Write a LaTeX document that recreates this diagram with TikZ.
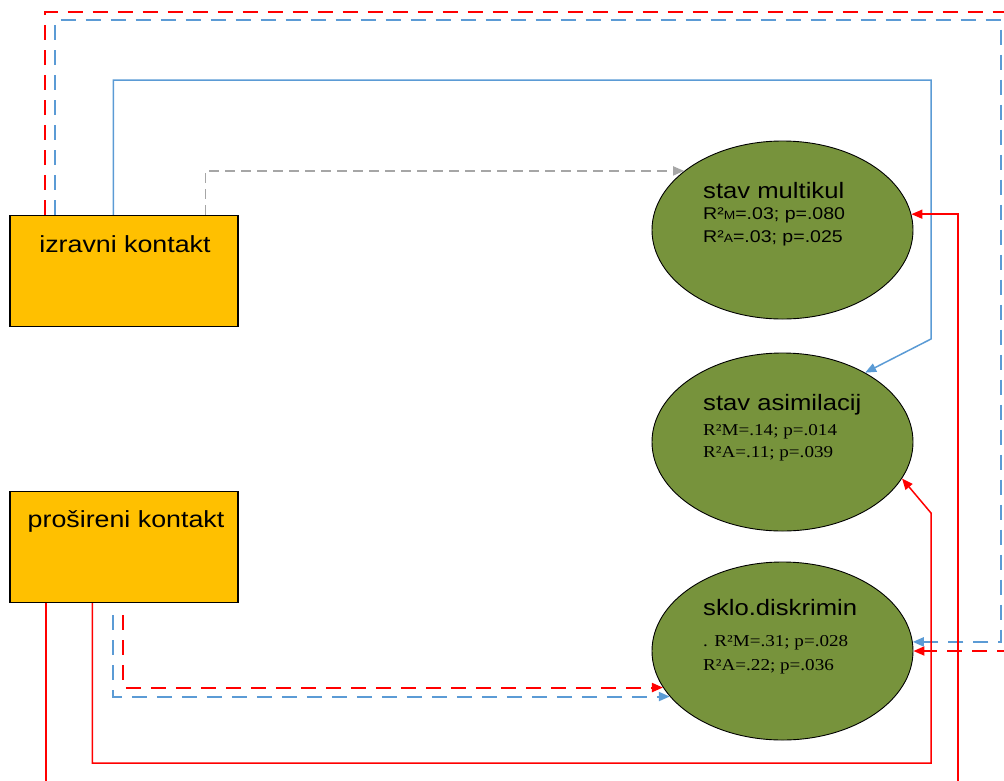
\documentclass[tikz,border=0pt]{standalone}
\usepackage{fontspec}
\setmainfont{Liberation Sans}
\newfontfamily\sansw[FakeStretch=1.15]{Liberation Sans}
\newfontfamily\serifw[FakeStretch=1.15]{Liberation Serif}
\usetikzlibrary{arrows.meta,shapes.geometric}
\definecolor{boxfill}{HTML}{FFC000}
\definecolor{ellfill}{HTML}{77933C}
\definecolor{lblue}{HTML}{5B9BD5}
\definecolor{lred}{HTML}{FF0000}
\definecolor{lgray}{HTML}{A6A6A6}
\begin{document}
\begin{tikzpicture}[x=1pt,y=-1pt,
  kbox/.style={draw=black,line width=1.3pt,fill=boxfill,minimum width=228pt,minimum height=111pt,inner sep=0pt},
  ell/.style={ellipse,draw=black,line width=0.9pt,fill=ellfill,minimum width=261pt,minimum height=178pt,inner sep=0pt},
  boxtxt/.style={anchor=base,inner sep=0pt,font=\sansw\fontsize{23.3}{27}\selectfont},
  titletxt/.style={anchor=base west,inner sep=0pt,font=\sansw\fontsize{22.3}{26}\selectfont},
  stsans/.style={anchor=base west,inner sep=0pt,font=\sansw\fontsize{17}{20}\selectfont},
  stserif/.style={anchor=base west,inner sep=0pt,font=\serifw\fontsize{16.6}{20}\selectfont},
  tip/.style={-{Triangle[length=11pt,width=9pt]}},
  bluesolid/.style={draw=lblue,line width=1.5pt,tip},
  redsolid/.style={draw=lred,line width=1.5pt,tip},
  bluedash/.style={draw=lblue,line width=2pt,dash pattern=on 15pt off 10pt,tip},
  reddash/.style={draw=lred,line width=2pt,dash pattern=on 15pt off 10pt,tip},
  graydash/.style={draw=lgray,line width=1.5pt,dash pattern=on 10pt off 6pt,tip}
]
\useasboundingbox (0,0) rectangle (1004,780);
\clip (0,0) rectangle (1004,780);

% boxes
\node[kbox] (iz) at (124,271) {};
\node[kbox] (pro) at (124,547) {};
\node[boxtxt] (izt) at (125,252) {izravni kontakt};
\node[boxtxt] (prot) at (126,527) {prošireni kontakt};

% ellipses
\node[ell] (mul) at (782.5,230) {};
\node[ell] (asi) at (782.5,442) {};
\node[ell] (skl) at (782.5,651) {};

\node[titletxt] (mult) at (703,198) {stav multikul};
\node[stsans] (mul2) at (703,219) {R²{\fontsize{12}{13}\selectfont M}=.03; p=.080};
\node[stsans] (mul3) at (703,242) {R²{\fontsize{12}{13}\selectfont A}=.03; p=.025};

\node[titletxt] (asit) at (703,410) {stav asimilacij};
\node[stserif] (asi2) at (703,435) {R²M=.14; p=.014};
\node[stserif] (asi3) at (703,457) {R²A=.11; p=.039};

\node[titletxt] (sklt) at (703,615) {sklo.diskrimin};
\node[stserif] (skl2) at (703,646) {. R²M=.31; p=.028};
\node[stserif] (skl3) at (703,670) {R²A=.22; p=.036};

% connectors from izravni kontakt
\draw[reddash] ([xshift=36pt]iz.north west) |- (1020,12) |- (skl.0.5);
\draw[bluedash] ([xshift=46pt]iz.north west) |- (1001,20) |- (skl.4.4);
\draw[bluesolid] ([xshift=104pt]iz.north west) |- (931,80) -- (931,339) -- (asi.40);
\draw[graydash] ([xshift=196pt]iz.north west) |- (mul.149);

% connectors from prosireni kontakt
\coordinate (lowturn) at (958,790);
\draw[redsolid] ([xshift=36.5pt]pro.south west) |- (lowturn) |- (mul.7.6);
\draw[redsolid] ([xshift=83pt]pro.south west) |- (931,763) -- (931,513) -- (asi.-17);
\draw[reddash,shorten <=12pt] ([xshift=114pt]pro.south west) |- (skl.197);
\draw[bluedash,shorten <=12pt] ([xshift=104pt]pro.south west) |- (skl.202);
\end{tikzpicture}
\end{document}
